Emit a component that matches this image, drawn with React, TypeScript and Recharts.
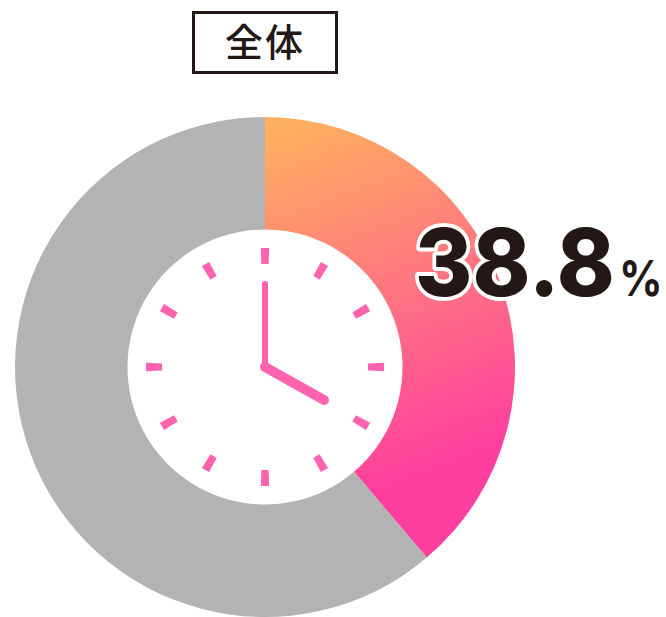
import React from "react";
import { PieChart, Pie, Cell } from "recharts";

const segmentNames = ["該当", "その他"];
const segmentValues = [38.8, 61.2];
const tickCount = 12;
const tickValues = Array.from({ length: tickCount * 2 }, (_, i) => (i % 2 === 0 ? 4 : 26));

const rows = segmentNames.map((name, i) => ({ name, value: segmentValues[i] }));
const tickRows = tickValues.map((value, i) => ({ name: `t${i}`, value }));

const CX = 265;
const CY = 367;
const PINK = "#FF62AE";
const INK = "#231815";

export default function App() {
  return (
    <div style={{ position: "absolute", left: 0, top: 0, width: 666, height: 617, background: "#fff" }}>
      <PieChart width={666} height={617} margin={{ top: 0, right: 0, bottom: 0, left: 0 }}>
        <defs>
          <linearGradient id="grad" gradientUnits="userSpaceOnUse" x1={275} y1={125} x2={430} y2={540}>
            <stop offset="0" stopColor="#FFB05E" />
            <stop offset="0.85" stopColor="#FF3F9F" />
            <stop offset="1" stopColor="#FF3F9F" />
          </linearGradient>
        </defs>
        <Pie
          data={rows}
          dataKey="value"
          nameKey="name"
          cx={CX}
          cy={CY}
          innerRadius={137.5}
          outerRadius={250}
          startAngle={90}
          endAngle={-270}
          stroke="none"
          isAnimationActive={false}
        >
          <Cell fill="url(#grad)" />
          <Cell fill="#B3B3B3" />
        </Pie>
        <Pie
          data={tickRows}
          dataKey="value"
          nameKey="name"
          cx={CX}
          cy={CY}
          innerRadius={103}
          outerRadius={119}
          startAngle={92}
          endAngle={-268}
          paddingAngle={0}
          stroke="none"
          isAnimationActive={false}
        >
          {tickRows.map((r, i) => (
            <Cell key={r.name} fill={i % 2 === 0 ? PINK : "none"} />
          ))}
        </Pie>
      </PieChart>
      <svg width={666} height={617} style={{ position: "absolute", left: 0, top: 0, pointerEvents: "none" }}>
        <line x1={CX} y1={367} x2={CX} y2={284} stroke={PINK} strokeWidth={6} strokeLinecap="round" />
        <line x1={CX} y1={367} x2={324} y2={400} stroke={PINK} strokeWidth={10} strokeLinecap="round" />
        <rect x={193.5} y={12.5} width={143} height={60} fill="#fff" stroke={INK} strokeWidth={3} />
        <text
          x={265}
          y={56}
          textAnchor="middle"
          fontFamily="'Noto Sans CJK JP'"
          fontWeight={500}
          fontSize={38}
          letterSpacing={2}
          fill={INK}
        >
          全体
        </text>
        <text
          transform="translate(415,296) scale(0.93,1)"
          fontFamily="Inter"
          fontWeight={800}
          fontSize={94}
          fill={INK}
          stroke="#fff"
          strokeWidth={8}
          strokeLinejoin="round"
          paintOrder="stroke"
        >
          {segmentValues[0].toFixed(1)}
        </text>
        <text transform="translate(619,296) scale(0.86,1)" fontFamily="Inter" fontWeight={700} fontSize={50} fill={INK}>
          %
        </text>
      </svg>
    </div>
  );
}
